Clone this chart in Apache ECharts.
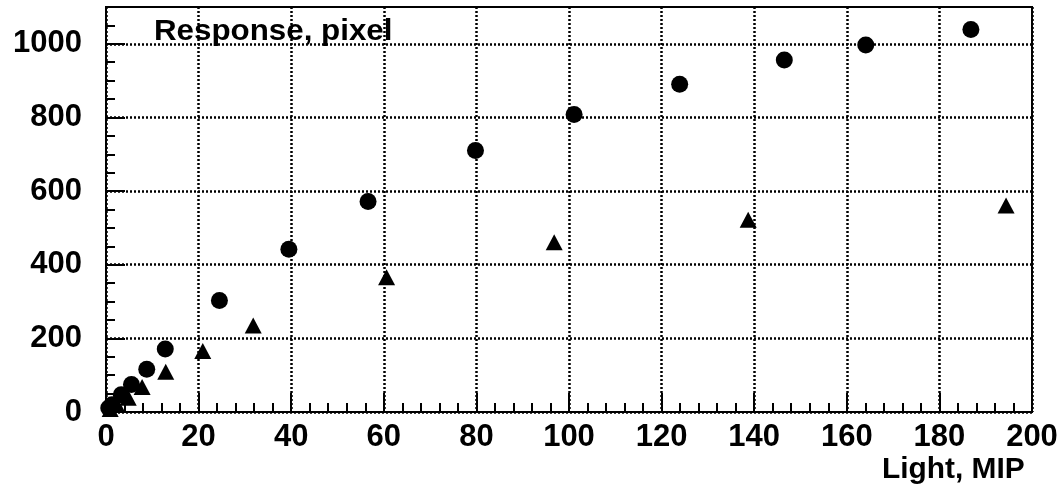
<!DOCTYPE html>
<html>
<head>
<meta charset="utf-8">
<script src="https://cdn.jsdelivr.net/npm/echarts@6/dist/echarts.min.js"></script>
<style>
  html, body { margin: 0; padding: 0; background: #fff; }
  #chart { width: 1064px; height: 490px; }
</style>
</head>
<body>
<div id="chart"></div>
<script>
// light (MIP) vs response (pixel)
var circleX = [0.6, 1.3, 3.3, 5.5, 8.8, 12.8, 24.5, 39.5, 56.6, 79.8, 101.1, 123.9, 146.5, 164.1, 186.8];
var circleY = [11, 20, 47, 75, 116, 171, 303, 442, 572, 710, 808, 890, 956, 997, 1039];
var triX = [0.9, 2.4, 4.8, 7.8, 12.9, 20.9, 31.8, 60.6, 96.8, 138.7, 194.4];
var triY = [8, 19, 39, 68, 109, 166, 235, 366, 461, 522, 561];
var yTicks = [0, 200, 400, 600, 800, 1000];
var xTitle = "Light, MIP";
var yTitle = "Response, pixel";

function pairs(xs, ys) {
  return xs.map(function (x, i) { return [x, ys[i]]; });
}

var labelFont = { color: "#000", fontFamily: "Liberation Sans", fontWeight: "bold", fontSize: 31 };
var dotted = { color: "#000", width: 2.5, type: [2, 2] };

var chart = echarts.init(document.getElementById("chart"));
chart.setOption({
  animation: false,
  backgroundColor: "#fff",
  grid: {
    left: 106, right: 32, top: 7, bottom: 78,
    show: true, borderColor: "#000", borderWidth: 2
  },
  xAxis: {
    type: "value",
    min: 0, max: 200, interval: 20,
    axisLine: { onZero: false, lineStyle: { color: "#000", width: 2 } },
    axisTick: { inside: true, length: 19, lineStyle: { color: "#000", width: 2 } },
    minorTick: { show: true, splitNumber: 5, length: 9, lineStyle: { color: "#000", width: 2 } },
    axisLabel: Object.assign({ margin: 10, formatter: function (v) { return String(v); } }, labelFont),
    splitLine: { show: true, lineStyle: dotted }
  },
  yAxis: [
    {
      type: "value",
      position: "left",
      min: 0, max: 1100, interval: 200,
      axisLine: { onZero: false, lineStyle: { color: "#000", width: 2 } },
      axisTick: { inside: true, length: 19, customValues: yTicks, lineStyle: { color: "#000", width: 2 } },
      axisLabel: Object.assign({ margin: 24, customValues: yTicks, formatter: function (v) { return String(v); } }, labelFont),
      splitLine: { show: true, lineStyle: dotted }
    },
    {
      // minor ticks every 50
      type: "value",
      position: "left",
      min: 0, max: 1100, interval: 50,
      axisLine: { show: false },
      axisTick: { inside: true, length: 9, lineStyle: { color: "#000", width: 2 } },
      axisLabel: { show: false },
      splitLine: { show: false }
    }
  ],
  graphic: [
    {
      type: "text", x: 154, y: 17, scaleX: 1.08,
      style: { text: yTitle, fill: "#000", fontFamily: "Liberation Sans", fontWeight: "bold", fontSize: 29, verticalAlign: "top" }
    },
    {
      type: "text", x: 882, y: 455, scaleX: 1.03,
      style: { text: xTitle, fill: "#000", fontFamily: "Liberation Sans", fontWeight: "bold", fontSize: 29, verticalAlign: "top" }
    }
  ],
  series: [
    {
      type: "scatter",
      symbol: "circle",
      symbolSize: 17,
      itemStyle: { color: "#000", opacity: 1 },
      data: pairs(circleX, circleY)
    },
    {
      type: "scatter",
      symbol: "triangle",
      symbolSize: [17, 16],
      itemStyle: { color: "#000", opacity: 1 },
      data: pairs(triX, triY)
    }
  ]
});
</script>
</body>
</html>
